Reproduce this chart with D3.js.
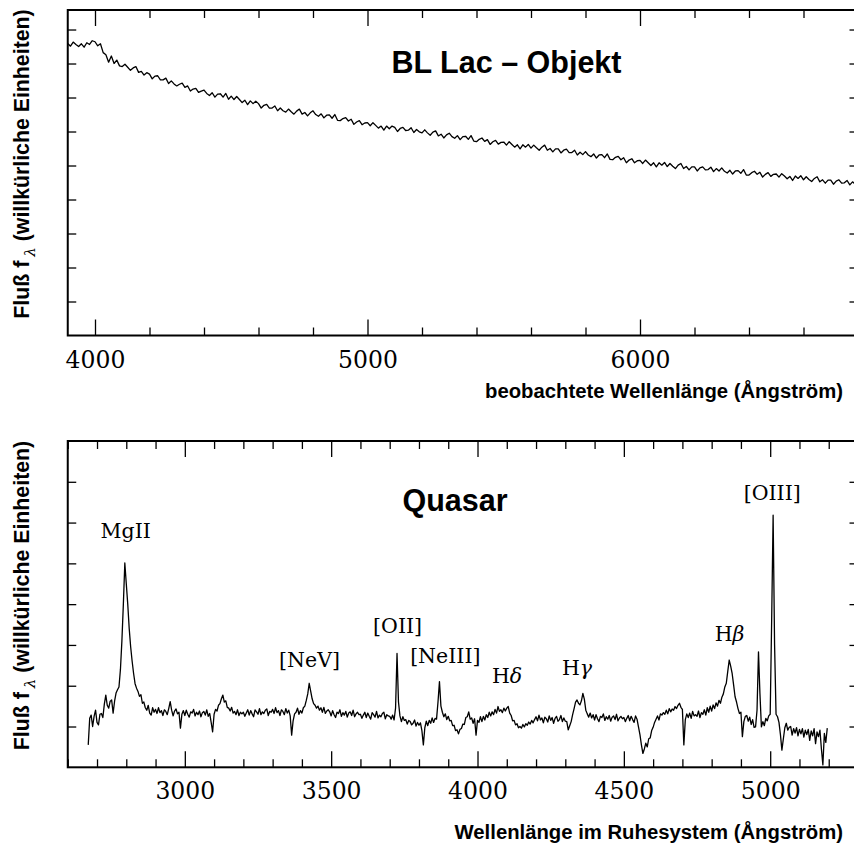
<!DOCTYPE html>
<html><head><meta charset="utf-8">
<script src="https://cdn.jsdelivr.net/npm/d3@7"></script>
<style>body{margin:0;background:#fff}svg{display:block}</style>
</head><body>
<svg id="chart" width="854" height="845"></svg>
<script>
// ---------------- data ----------------
// BL Lac object: observed spectrum, sampled every 10 Å starting at 3900 Å
const blLacStart = 3900, blLacStep = 10;
const blLacFlux = [
8.59,8.51,8.63,8.56,8.50,8.58,8.48,8.61,8.56,8.67,
8.64,8.52,8.58,8.32,8.26,8.04,8.22,8.00,8.10,7.93,
7.91,7.98,7.89,7.80,7.87,7.91,7.74,7.77,7.66,7.73,
7.69,7.55,7.63,7.64,7.52,7.52,7.57,7.41,7.49,7.40,
7.34,7.39,7.42,7.30,7.34,7.19,7.25,7.27,7.15,7.19,
7.22,7.12,7.06,7.14,7.01,7.10,7.11,7.01,7.12,6.95,
7.04,6.94,7.03,6.94,6.85,6.92,6.79,6.90,6.82,6.89,
6.82,6.69,6.77,6.80,6.69,6.69,6.75,6.61,6.69,6.61,
6.57,6.66,6.58,6.51,6.60,6.66,6.51,6.56,6.46,6.55,
6.61,6.50,6.45,6.52,6.40,6.48,6.49,6.39,6.50,6.33,
6.32,6.38,6.41,6.31,6.36,6.21,6.28,6.32,6.20,6.25,
6.26,6.17,6.26,6.18,6.10,6.16,6.04,6.16,6.08,6.16,
6.12,6.00,6.09,6.12,6.03,6.04,6.11,5.97,6.06,5.99,
5.96,6.05,5.96,5.89,5.98,6.02,5.87,5.92,5.81,5.90,
5.95,5.85,5.80,5.88,5.76,5.85,5.86,5.77,5.88,5.72,
5.70,5.77,5.81,5.71,5.76,5.62,5.70,5.74,5.63,5.68,
5.69,5.60,5.70,5.62,5.54,5.61,5.49,5.61,5.54,5.62,
5.51,5.60,5.52,5.45,5.54,5.60,5.45,5.50,5.40,5.49,
5.49,5.37,5.45,5.48,5.38,5.38,5.45,5.31,5.39,5.32,
5.41,5.31,5.26,5.34,5.22,5.31,5.32,5.23,5.34,5.18,
5.17,5.24,5.27,5.17,5.23,5.08,5.16,5.20,5.08,5.14,
5.15,5.06,5.16,5.08,5.00,5.08,4.96,5.08,5.01,5.09,
4.97,5.06,4.98,4.91,5.01,5.06,4.91,4.97,4.87,4.96,
4.96,4.84,4.93,4.96,4.87,4.88,4.95,4.82,4.91,4.84,
4.93,4.83,4.78,4.86,4.75,4.84,4.85,4.77,4.88,4.72,
4.72,4.79,4.83,4.74,4.80,4.66,4.74,4.79,4.68,4.74,
4.75,4.66,4.76,4.69,4.61,4.68,4.56,4.69,4.62,4.70,
4.58,4.67,4.59,4.53,4.62,4.67,4.52,4.58,4.48,4.57,
4.57,4.45,4.54,4.58,4.48,4.49,4.56,4.43,4.52,4.45,
4.46
];

// Quasar: rest-frame spectrum, sampled every 5 Å starting at 2670 Å
const quasarStart = 2670, quasarStep = 5;
const quasarFlux = [
0.55,1.20,1.28,1.00,1.25,1.40,
1.10,1.04,1.30,1.32,1.22,1.55,1.77,1.52,1.45,1.62,1.65,1.33,1.62,1.82,1.90,1.97,2.40,3.10,4.00,5.01,
4.50,4.00,3.40,2.95,2.60,2.30,2.05,1.94,1.86,1.74,1.78,1.57,1.60,1.46,1.40,1.52,1.33,1.28,1.46,1.35,
1.42,1.32,1.46,1.34,1.39,1.27,1.41,1.37,1.29,1.44,1.61,1.40,1.26,1.38,1.43,1.31,1.35,0.96,1.30,1.39,
1.27,1.40,1.30,1.23,1.36,1.33,1.42,1.26,1.35,1.29,1.38,1.24,1.34,1.37,1.28,1.41,1.25,1.32,1.10,0.87,
1.30,1.42,1.38,1.52,1.56,1.68,1.77,1.60,1.63,1.47,1.45,1.38,1.47,1.33,1.37,1.29,1.41,1.27,1.35,1.31,
1.35,1.25,1.33,1.41,1.28,1.39,1.31,1.24,1.41,1.36,1.30,1.44,1.29,1.36,1.32,1.40,1.43,1.27,1.37,1.35,
1.42,1.32,1.46,1.34,1.39,1.27,1.41,1.37,1.29,1.44,1.33,1.40,1.26,0.79,1.14,1.31,1.35,1.45,1.30,1.39,
1.33,1.46,1.50,1.64,1.80,2.06,1.87,1.68,1.56,1.52,1.45,1.50,1.40,1.46,1.35,1.47,1.32,1.38,1.41,1.36,
1.26,1.39,1.29,1.22,1.35,1.32,1.41,1.25,1.34,1.28,1.37,1.23,1.33,1.36,1.27,1.40,1.24,1.31,1.35,1.29,
1.30,1.20,1.28,1.35,1.22,1.33,1.25,1.18,1.34,1.29,1.23,1.37,1.21,1.28,1.24,1.32,1.35,1.19,1.29,1.26,
1.25,1.18,1.28,1.16,1.45,2.79,1.60,1.26,1.12,1.24,1.15,1.17,1.06,1.15,1.12,1.04,1.08,1.16,1.01,1.10,
1.03,1.09,0.90,0.55,0.97,1.13,1.02,1.15,1.08,1.21,1.10,1.20,1.18,1.60,2.10,1.50,1.35,1.24,1.31,1.17,
1.25,1.14,1.15,1.02,1.03,0.90,0.92,0.82,0.93,0.95,1.06,1.05,1.22,1.24,1.36,1.18,1.21,1.08,1.19,0.79,
1.15,1.10,1.24,1.12,1.25,1.16,1.29,1.22,1.35,1.26,1.36,1.29,1.42,1.33,1.49,1.37,1.41,1.34,1.45,1.38,
1.45,1.49,1.33,1.27,1.14,1.15,1.04,1.07,0.97,1.00,0.96,1.05,0.99,1.07,1.03,1.11,1.06,1.15,1.09,1.17,
1.24,1.14,1.28,1.16,1.21,1.09,1.23,1.19,1.11,1.26,1.15,1.22,1.08,1.20,1.25,1.13,1.17,1.27,1.12,1.21,
1.13,1.12,0.92,1.02,1.12,1.29,1.44,1.60,1.65,1.57,1.53,1.63,1.81,1.67,1.40,1.31,1.23,1.33,1.21,1.29,
1.16,1.29,1.19,1.12,1.25,1.22,1.31,1.15,1.24,1.18,1.27,1.13,1.23,1.26,1.17,1.30,1.14,1.21,1.25,1.19,
1.22,1.12,1.20,1.27,1.14,1.25,1.17,1.10,1.26,1.18,0.99,0.80,0.55,0.34,0.45,0.59,0.50,0.70,0.72,0.90,
0.98,1.10,1.18,1.26,1.16,1.31,1.28,1.34,1.30,1.40,1.31,1.44,1.36,1.43,1.40,1.49,1.44,1.52,1.57,1.47,
1.42,0.55,1.17,1.31,1.22,1.33,1.20,1.37,1.26,1.29,1.25,1.38,1.22,1.34,1.30,1.41,1.28,1.46,1.35,1.50,
1.38,1.53,1.44,1.58,1.50,1.64,1.57,1.72,1.80,1.97,2.06,2.35,2.63,2.48,2.30,2.02,1.73,1.60,1.44,1.32,
1.35,0.75,1.12,1.25,1.27,1.13,1.23,1.05,1.17,0.98,0.99,1.40,2.83,1.80,0.99,1.12,1.02,1.20,1.14,1.26,
1.30,3.60,6.18,3.00,1.30,1.24,1.10,0.80,0.42,0.70,0.97,1.08,0.91,0.98,1.00,0.79,0.95,0.84,0.97,0.77,
0.93,0.82,0.95,0.74,0.91,0.80,0.93,0.66,0.89,0.77,0.95,0.58,0.87,0.75,0.91,0.45,0.06,0.83,0.61,0.96
];

// axes
const topXDomain = [3900, 6800];
const botXDomain = [2600, 5300];
const topYDomain = [0, 9.574];
const botYDomain = [0, 8];
const topMajorTicks = [4000, 5000, 6000];
const topMinorStep = 200;
const botMajorTicks = [3000, 3500, 4000, 4500, 5000];
const botMinorStep = 100;
const topYTicks = [1, 2, 3, 4, 5, 6, 7, 8, 9];
const botYTicks = [1, 2, 3, 4, 5, 6, 7];

// texts
const topTitle = "BL Lac \u2013 Objekt";
const botTitle = "Quasar";
const topXLabel = "beobachtete Wellenlänge (Ångström)";
const botXLabel = "Wellenlänge im Ruhesystem (Ångström)";

// emission line annotations (quasar panel)
const lineNames  = ["MgII", "[NeV]", "[OII]", "[NeIII]", "H", "H", "H", "[OIII]"];
const lineGreek  = ["", "", "", "", "\u03B4", "\u03B3", "\u03B2", ""];
const lineWaves  = [2798, 3426, 3727, 3890, 4101, 4340, 4861, 5007];
const lineLabelF = [5.62, 2.46, 3.29, 2.56, 2.07, 2.26, 3.10, 6.55];

// ---------------- drawing ----------------
const svg = d3.select("#chart");

function toSeries(start, step, flux) {
  const waves = d3.range(flux.length).map(i => start + i * step);
  return flux.map((f, i) => ({w: waves[i], f}));
}

function panel(cfg) {
  const x = d3.scaleLinear().domain(cfg.xDomain).range([67.75, 858]);
  const y = d3.scaleLinear().domain(cfg.yDomain).range([cfg.bottom, cfg.top]);
  const g = svg.append("g");
  const clipId = "clip" + cfg.id;
  svg.append("clipPath").attr("id", clipId).append("rect")
    .attr("x", 67.75).attr("y", cfg.top).attr("width", 858 - 67.75).attr("height", cfg.bottom - cfg.top);

  g.append("path")
    .datum(cfg.series)
    .attr("clip-path", `url(#${clipId})`)
    .attr("fill", "none")
    .attr("stroke", "#000")
    .attr("stroke-width", 1.3)
    .attr("stroke-linejoin", "round")
    .attr("d", d3.line().x(d => x(d.w)).y(d => y(d.f)));

  g.append("rect")
    .attr("x", 67.75).attr("y", cfg.top)
    .attr("width", 858 - 67.75).attr("height", cfg.bottom - cfg.top)
    .attr("fill", "none").attr("stroke", "#000").attr("stroke-width", 2);

  const minor = d3.range(Math.ceil(cfg.xDomain[0] / cfg.minorStep) * cfg.minorStep, cfg.xDomain[1] + 1, cfg.minorStep)
    .filter(v => !cfg.major.includes(v));

  function styleAxis(a) {
    a.select(".domain").remove();
    a.selectAll(".tick line").attr("stroke", "#000").attr("stroke-width", 1.3);
    return a;
  }
  const bMaj = styleAxis(g.append("g").attr("transform", `translate(0,${cfg.bottom})`)
    .call(d3.axisBottom(x).tickValues(cfg.major).tickSize(-16).tickFormat(d3.format("d"))));
  bMaj.selectAll(".tick text")
    .attr("y", cfg.labelOffset).attr("dy", null)
    .attr("fill", "#000")
    .style("font-family", "'DejaVu Serif', serif")
    .style("font-size", "23.5px");
  styleAxis(g.append("g").attr("transform", `translate(0,${cfg.bottom})`)
    .call(d3.axisBottom(x).tickValues(minor).tickSize(-8).tickFormat("")));
  styleAxis(g.append("g").attr("transform", `translate(0,${cfg.top})`)
    .call(d3.axisTop(x).tickValues(cfg.major).tickSize(-16).tickFormat("")));
  styleAxis(g.append("g").attr("transform", `translate(0,${cfg.top})`)
    .call(d3.axisTop(x).tickValues(minor).tickSize(-8).tickFormat("")));
  styleAxis(g.append("g").attr("transform", `translate(67.75,0)`)
    .call(d3.axisLeft(y).tickValues(cfg.yTicks).tickSize(-8.5).tickFormat("")));
  styleAxis(g.append("g").attr("transform", `translate(858,0)`)
    .call(d3.axisRight(y).tickValues(cfg.yTicks).tickSize(-8.5).tickFormat("")));

  g.append("text")
    .attr("x", cfg.titleX).attr("y", cfg.titleY)
    .attr("text-anchor", "middle")
    .style("font-family", "'Liberation Sans', Arial, sans-serif")
    .style("font-weight", "bold").style("font-size", "30.5px")
    .text(cfg.title);

  g.append("text")
    .attr("x", 843).attr("y", cfg.xLabelY)
    .attr("text-anchor", "end")
    .style("font-family", "'Liberation Sans', Arial, sans-serif")
    .style("font-weight", "bold").style("font-size", "20.3px")
    .text(cfg.xLabel);

  const yl = g.append("text")
    .attr("transform", `translate(28.5,${cfg.yLabelY}) rotate(-90)`)
    .attr("text-anchor", "middle")
    .style("font-family", "'Liberation Sans', Arial, sans-serif")
    .style("font-weight", "bold").style("font-size", "21.3px");
  yl.append("tspan").text("Fluß f");
  yl.append("tspan").attr("dx", 4).attr("dy", 6)
    .style("font-weight", "normal").style("font-size", "15px")
    .style("font-family", "'DejaVu Serif', serif").style("font-style", "italic")
    .text("\u03BB");
  yl.append("tspan").attr("dy", -6).text(" (willkürliche Einheiten)");

  return {x, y, g};
}

panel({
  id: "top", xDomain: topXDomain, yDomain: topYDomain, top: 10, bottom: 335.5,
  series: toSeries(blLacStart, blLacStep, blLacFlux),
  major: topMajorTicks, minorStep: topMinorStep, yTicks: topYTicks,
  labelOffset: 32, title: topTitle, titleX: 506.5, titleY: 72.7,
  xLabel: topXLabel, xLabelY: 398, yLabelY: 164
});

const bot = panel({
  id: "bot", xDomain: botXDomain, yDomain: botYDomain, top: 441, bottom: 767.3,
  series: toSeries(quasarStart, quasarStep, quasarFlux),
  major: botMajorTicks, minorStep: botMinorStep, yTicks: botYTicks,
  labelOffset: 31.7, title: botTitle, titleX: 455, titleY: 510.5,
  xLabel: botXLabel, xLabelY: 838.5, yLabelY: 595.5
});

lineNames.forEach((name, i) => {
  const t = bot.g.append("text")
    .attr("x", bot.x(lineWaves[i])).attr("y", bot.y(lineLabelF[i]))
    .attr("text-anchor", "middle")
    .style("font-family", "'DejaVu Serif', serif")
    .style("font-size", "20.5px");
  t.append("tspan").text(name);
  if (lineGreek[i]) t.append("tspan").style("font-style", "italic").text(lineGreek[i]);
});
</script>
</body></html>
